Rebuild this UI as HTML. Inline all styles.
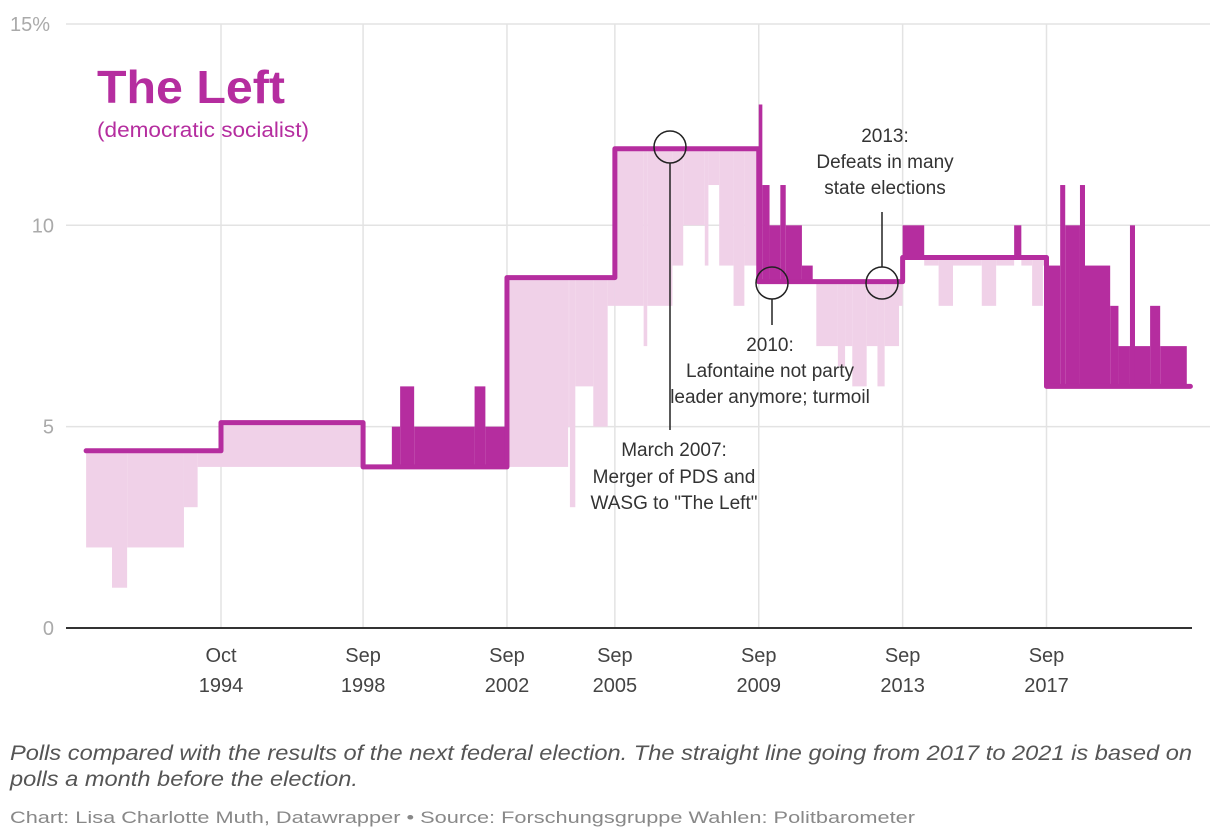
<!DOCTYPE html>
<html><head><meta charset="utf-8"><style>
html,body{margin:0;padding:0;background:#fff;}
svg{display:block;font-family:"Liberation Sans",sans-serif;}
</style></head><body>
<svg id="chart" width="1220" height="840" viewBox="0 0 1220 840" xmlns="http://www.w3.org/2000/svg">
<g id="grid"></g>
<g id="bars"></g>
<g id="line"></g>
<g id="axes"></g>
<text x="97" y="103" font-size="46" font-weight="bold" fill="#b52d9f" textLength="188" lengthAdjust="spacingAndGlyphs">The Left</text>
<text x="97" y="137" font-size="21" fill="#b52d9f" textLength="212" lengthAdjust="spacingAndGlyphs">(democratic socialist)</text>
<g fill="#333" font-size="19" text-anchor="middle">
<circle cx="670" cy="147" r="16" fill="none" stroke="#222" stroke-width="1.5"/>
<line x1="670" y1="163" x2="670" y2="430" stroke="#222" stroke-width="1.5"/>
<text x="674" y="456">March 2007:</text><text x="674" y="483">Merger of PDS and</text><text x="674" y="509">WASG to "The Left"</text>
</g>
<g fill="#333" font-size="19" text-anchor="middle">
<circle cx="772" cy="283" r="16" fill="none" stroke="#222" stroke-width="1.5"/>
<line x1="772" y1="299" x2="772" y2="325" stroke="#222" stroke-width="1.5"/>
<text x="770" y="351">2010:</text><text x="770" y="377">Lafontaine not party</text><text x="770" y="403">leader anymore; turmoil</text>
</g>
<g fill="#333" font-size="19" text-anchor="middle">
<circle cx="882" cy="283" r="16" fill="none" stroke="#222" stroke-width="1.5"/>
<line x1="882" y1="267" x2="882" y2="212" stroke="#222" stroke-width="1.5"/>
<text x="885" y="142">2013:</text><text x="885" y="168">Defeats in many</text><text x="885" y="194">state elections</text>
</g>
<text x="10" y="760" font-size="21" font-style="italic" fill="#555" textLength="1182" lengthAdjust="spacingAndGlyphs">Polls compared with the results of the next federal election. The straight line going from 2017 to 2021 is based on</text>
<text x="10" y="786" font-size="21" font-style="italic" fill="#555" textLength="348" lengthAdjust="spacingAndGlyphs">polls a month before the election.</text>
<text x="10" y="823" font-size="17" fill="#888" textLength="905" lengthAdjust="spacingAndGlyphs">Chart: Lisa Charlotte Muth, Datawrapper • Source: Forschungsgruppe Wahlen: Politbarometer</text>
</svg>
<script>
const electionYears=[1991.0,1994.75,1998.7,2002.7,2005.7,2009.7,2013.7,2017.7,2021.7];
const electionResults=[4.4,5.1,4.0,8.7,11.9,8.6,9.2,6.0];
const pollTimes=[1991.0,1991.72,1992.14,1993.72,1994.1,1994.75,1998.7,1999.5,1999.73,2000.12,2001.8,2002.1,2002.7,2004.4,2004.45,2004.6,2005.1,2005.5,
2005.7,2006.5,2006.6,2007.3,2007.6,2008.2,2008.3,2008.6,2009.0,2009.3,
2009.7,2009.8,2010.0,2010.3,2010.45,2010.9,2011.2,2011.3,2011.9,2012.1,2012.3,2012.7,2013.0,2013.2,2013.6,
2013.7,2014.3,2014.7,2015.1,2015.9,2016.3,2016.8,2017.0,2017.3,2017.6,
2017.7,2018.08,2018.22,2018.63,2018.77,2019.47,2019.7,2020.02,2020.16,2020.58,2020.86,2021.6];
const pollValues=[2,1,2,3,4,4,4,5,6,5,6,5,4,5,3,6,5,8,
8,7,8,9,10,9,11,9,8,9,
13,11,10,11,10,9,8.6,7,6.5,7,6,7,6,7,8,
10,9,8,9,8,9,10,9,8,9,
9,11,10,11,9,8,7,10,7,8,7,6];
const yTicks=[0,5,10,15];
const yTickLabels=["0","5","10","15%"];
const xTickYears=[1994.75,1998.7,2002.7,2005.7,2009.7,2013.7,2017.7];
const xTickLabels=[["Oct","1994"],["Sep","1998"],["Sep","2002"],["Sep","2005"],["Sep","2009"],["Sep","2013"],["Sep","2017"]];
const NS="http://www.w3.org/2000/svg";
const X=t=>221+(t-1994.75)*35.97;
const Y=v=>628-v*40.27;
function mk(tag,attrs,parent){const e=document.createElementNS(NS,tag);for(const k in attrs)e.setAttribute(k,attrs[k]);parent.appendChild(e);return e;}
function resultAt(t){for(let i=0;i<electionResults.length;i++){if(t<electionYears[i+1]-1e-6)return electionResults[i];}return electionResults[electionResults.length-1];}
const grid=document.getElementById('grid'),bars=document.getElementById('bars'),line=document.getElementById('line'),axes=document.getElementById('axes');
yTicks.forEach((v,i)=>{
 if(v>0){const g=mk('line',{x1:66,x2:1210,y1:Y(v),y2:Y(v),stroke:'#e3e3e3','stroke-width':1.5},grid);
 
 }
 const t=mk('text',{x:v===15?10:54,y:Y(v)+7,'font-size':20,fill:'#aaa','text-anchor':v===15?'start':'end'},axes);
 t.textContent=yTickLabels[i];
 
 
});
xTickYears.forEach((yr,i)=>{
 const g=mk('line',{x1:X(yr),x2:X(yr),y1:24,y2:628,stroke:'#e3e3e3','stroke-width':1.5},grid);
 
 
 const t=mk('text',{x:X(yr),y:662,'font-size':20,fill:'#444','text-anchor':'middle'},axes);
 
 
 const a=mk('tspan',{x:X(yr),dy:0},t);a.textContent=xTickLabels[i][0];
 const b=mk('tspan',{x:X(yr),dy:30},t);b.textContent=xTickLabels[i][1];
});
const ax=mk('line',{x1:66,x2:1192,y1:628,y2:628,stroke:'#333','stroke-width':2},axes);


for(let i=0;i<pollTimes.length;i++){
 const t0=pollTimes[i],t1=i+1<pollTimes.length?pollTimes[i+1]:electionYears[electionYears.length-1];
 const r=resultAt(t0),p=pollValues[i];
 if(Math.abs(p-r)<1e-6)continue;
 const y0=Y(Math.max(p,r)),y1=Y(Math.min(p,r));
 const rc=mk('rect',{x:X(t0),y:y0,width:Math.max(0.5,X(t1)-X(t0)),height:y1-y0,fill:p>r?'#b52d9f':'#f0d1e8'},bars);
 
 
}
let d='';
electionResults.forEach((v,i)=>{d+=(i?'L':'M')+X(electionYears[i])+','+Y(v)+'L'+X(electionYears[i+1])+','+Y(v);});
const pth=mk('path',{d:d,fill:'none',stroke:'#b52d9f','stroke-width':5,'stroke-linejoin':'round','stroke-linecap':'round'},line);


</script>
</body></html>
